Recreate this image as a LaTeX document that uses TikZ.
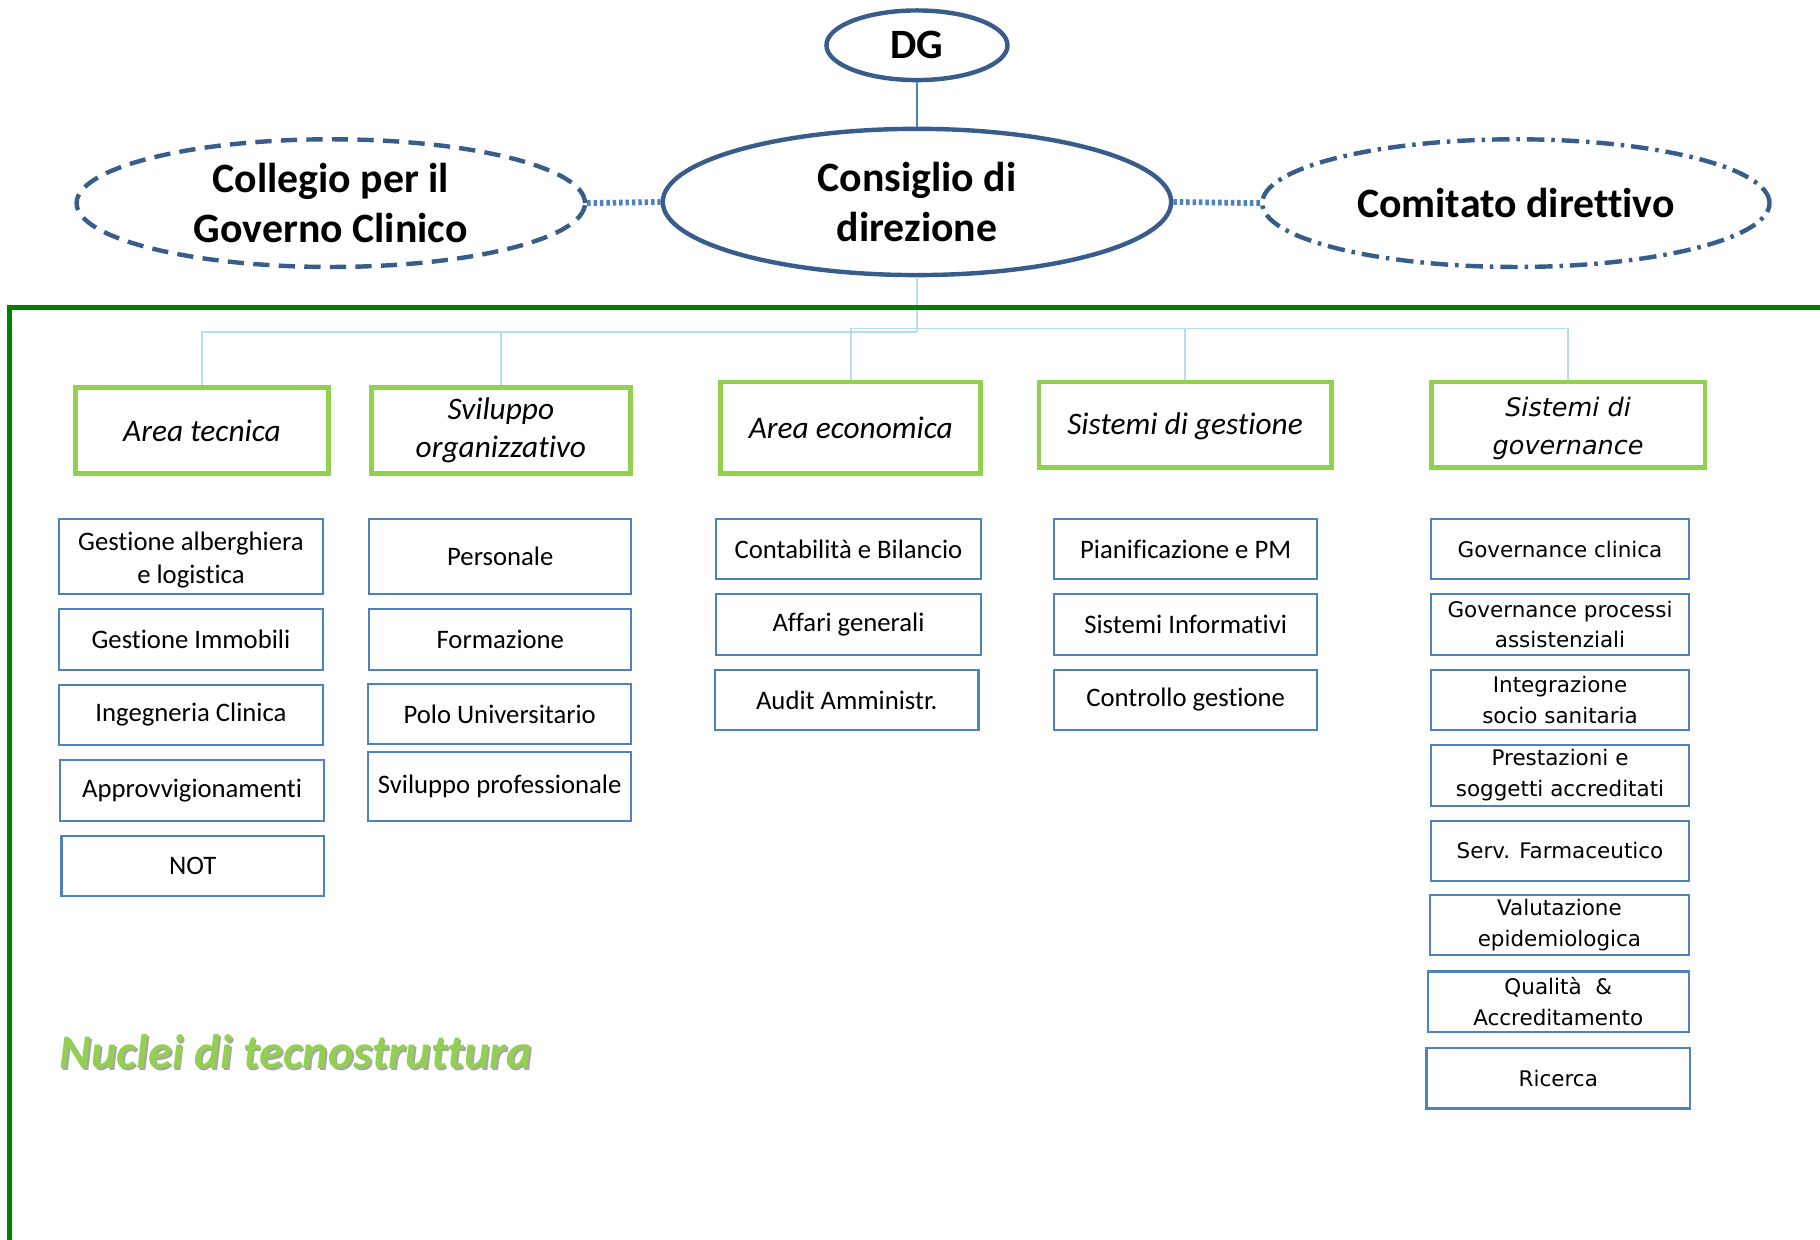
\documentclass[tikz,border=0pt]{standalone}
\usepackage{fontspec}
\setmainfont{Carlito}[RawFeature={-liga;-clig;-calt;-dlig;-ccmp;-rlig}]
\newfontfamily\wide{DejaVu Sans}
\usetikzlibrary{shapes.geometric}
\definecolor{ellc}{HTML}{385D8A}
\definecolor{dotb}{HTML}{4F81BD}
\definecolor{unitb}{HTML}{4F81BD}
\definecolor{areag}{HTML}{92D050}
\definecolor{framec}{HTML}{008000}
\definecolor{treec}{HTML}{B6DDE8}
\tikzset{
  ell/.style={ellipse, draw=ellc, line width=3.8pt, inner sep=0pt},
  elltext/.style={font=\bfseries\fontsize{36}{43}\selectfont, align=center},
  area/.style={draw=areag, line width=4pt, align=center, inner sep=0pt, font=\itshape\fontsize{27}{33}\selectfont},
  unit/.style={draw=unitb, line width=1.8pt, align=center, inner sep=0pt, font=\fontsize{23}{28}\selectfont},
  gov/.style={unit, font=\wide\fontsize{18.5}{26.5}\selectfont},
  tree/.style={draw=treec, line width=1.4pt},
  dotc/.style={draw=dotb, line width=5pt, dash pattern=on 3pt off 2.5pt},
}
\newcommand{\lowerby}[2]{\raisebox{-#1}[\height][\depth]{#2}}
\begin{document}
\begin{tikzpicture}[x=1pt,y=-1pt]
\useasboundingbox[fill=white] (0,0) rectangle (1568,1068);

% top ellipses
\node[ell, minimum width=156pt, minimum height=60pt, label={[elltext]center:DG}] (dg) at (790,39) {};
\node[ell, minimum width=438pt, minimum height=126pt, label={[elltext]center:Consiglio di\\direzione}] (cons) at (790,174) {};
\node[ell, dash pattern=on 14pt off 8pt, minimum width=438pt, minimum height=110pt, label={[elltext]center:Collegio per il\\Governo Clinico}] (coll) at (285,175) {};
\node[ell, dash pattern=on 15pt off 6pt on 3pt off 6pt, minimum width=437pt, minimum height=110pt, label={[elltext]center:Comitato direttivo}] (com) at (1306,175) {};

\draw[draw=dotb, line width=1.2pt] (dg) -- (cons);
\draw[dotc] (coll.east) -- (cons.west);
\draw[dotc] (cons.east) -- (com.west);

% area boxes
\node[area, minimum width=218pt, minimum height=74pt] (at) at (174,371) {Area tecnica};
\node[area, minimum width=223pt, minimum height=74pt] (so) at (431.5,371) {Sviluppo\\organizzativo};
\node[area, minimum width=224pt, minimum height=79pt] (ae) at (733,368.5) {Area economica};
\node[area, minimum width=252pt, minimum height=74pt] (sg) at (1021,366) {\lowerby{1.5pt}{Sistemi di gestione}};
\node[area, minimum width=236pt, minimum height=74pt, font=\wide\itshape\fontsize{22}{33}\selectfont] (sgov) at (1351,366) {\lowerby{3pt}{\parbox{230pt}{\centering Sistemi di\\governance}}};

% tree connectors
\coordinate (jl) at (790,286);
\coordinate (jr) at (790,283);
\draw[tree] (cons.south) -- (jl);
\draw[tree] (jl) -| (at.north);
\draw[tree] (jl) -| (so.north);
\draw[tree] (jr) -| (ae.north);
\draw[tree] (jr) -| (sg.north);
\draw[tree] (jr) -| (sgov.north);

% green frame
\draw[draw=framec, line width=4.5pt] (8,1080) -- (8,265) -- (1580,265);

% column 1
\node[unit, minimum width=227pt, minimum height=65pt] (ga) at (164.5,479.5) {\lowerby{3pt}{\parbox{225pt}{\centering Gestione alberghiera\\e logistica}}};
\node[unit, minimum width=227pt, minimum height=52pt] (gi) at (164.5,551) {Gestione Immobili};
\node[unit, minimum width=227pt, minimum height=52pt] (ic) at (164.5,616) {Ingegneria Clinica};
\node[unit, minimum width=227pt, minimum height=52pt] (ap) at (165.5,681) {Approvvigionamenti};
\node[unit, minimum width=226pt, minimum height=52pt] (nt) at (166,746) {NOT};
% column 2
\node[unit, minimum width=226pt, minimum height=65pt] (pe) at (431,479.5) {Personale};
\node[unit, minimum width=226pt, minimum height=52pt] (fo) at (431,551) {Formazione};
\node[unit, minimum width=227pt, minimum height=52pt] (pu) at (430.5,615) {Polo Universitario};
\node[unit, minimum width=227pt, minimum height=59pt] (sp) at (430.5,677.5) {Sviluppo professionale};
% column 3
\node[unit, minimum width=228pt, minimum height=52pt] (cb) at (731,473) {Contabilità e Bilancio};
\node[unit, minimum width=228pt, minimum height=52pt] (ag) at (731,538) {Affari generali};
\node[unit, minimum width=227pt, minimum height=52pt] (aa) at (729.5,603) {Audit Amministr.};
% column 4
\node[unit, minimum width=227pt, minimum height=52pt] (pp) at (1021.5,473) {Pianificazione e PM};
\node[unit, minimum width=227pt, minimum height=52pt] (si) at (1021.5,538) {Sistemi Informativi};
\node[unit, minimum width=227pt, minimum height=52pt] (cg) at (1021.5,603) {Controllo gestione};
% column 5
\node[gov, minimum width=222pt, minimum height=52pt] (gc) at (1344,473) {Governance clinica};
\node[gov, minimum width=222pt, minimum height=52pt] (gp) at (1344,538) {Governance processi\\assistenziali};
\node[gov, minimum width=222pt, minimum height=52pt] (is) at (1344,603) {Integrazione\\socio sanitaria};
\node[gov, minimum width=222pt, minimum height=52pt] (ps) at (1344,668) {Prestazioni e\\soggetti accreditati};
\node[gov, minimum width=222pt, minimum height=52pt] (sf) at (1344,733) {Serv. Farmaceutico};
\node[gov, minimum width=223pt, minimum height=52pt] (ve) at (1343.5,797) {Valutazione\\epidemiologica};
\node[gov, minimum width=225pt, minimum height=52pt] (qa) at (1342.5,863) {Qualità\ \ \&\\Accreditamento};
\node[gov, minimum width=227pt, minimum height=52pt] (ri) at (1342.5,929) {Ricerca};

% label
\node[text=black!35, font=\bfseries\itshape\fontsize{41.5}{48}\selectfont] (nucsh) at (256.5,907.5) {Nuclei di tecnostruttura};
\node[text=areag, font=\bfseries\itshape\fontsize{41.5}{48}\selectfont] (nuc) at (255,906) {Nuclei di tecnostruttura};
\end{tikzpicture}
\end{document}
